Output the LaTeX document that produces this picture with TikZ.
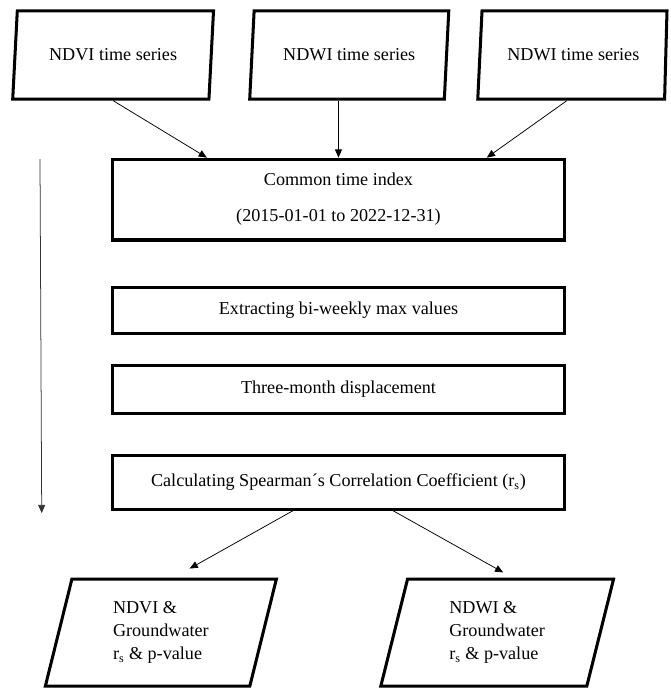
\documentclass[tikz,border=0pt]{standalone}
\usepackage{fontspec}
\setmainfont{Liberation Serif}
\usetikzlibrary{shapes.geometric}
\usetikzlibrary{arrows.meta}

\begin{document}
\begin{tikzpicture}
		[every node/.style={font=\fontsize{12}{14.4}\selectfont},
		process box/.style={draw, line width=2pt, minimum width=10.53cm, inner sep=0pt},
		data box/.style={draw, line width=2pt, trapezium, trapezium stretches=true,
			trapezium left angle=76, trapezium right angle=104, inner sep=0pt},
		result box/.style={data box, trapezium left angle=77, trapezium right angle=103,
			minimum height=2.49cm, align=left, font=\fontsize{12}{15.2}\selectfont},
		flow/.style={-{Triangle[length=5.4pt,width=4.6pt]}, line width=0.5pt}]
		
		\def \topy {-1.28};
		\def \boty {-14.71};
		
		\useasboundingbox (0,0) rectangle (15.58,-16.02);
		
		% input series
		\node[data box, minimum width=4.70cm, minimum height=2.05cm] (ndvi) at (2.63,\topy) {NDVI time series};
		\node[data box, minimum width=4.65cm, minimum height=2.05cm] (ndwi) at (8.12,\topy) {NDWI time series};
		\node[data box, trapezium right angle=98, minimum width=4.42cm, minimum height=2.05cm] (ndwib) at (13.33,\topy) {NDWI time series};
		
		% processing steps
		\node[process box, minimum height=1.88cm, align=center] (common) at (7.87,-4.64)
			{Common time index\\[9.4pt](2015-01-01 to 2022-12-31)};
		\node[process box, minimum height=1.09cm] (extract) at (7.87,-7.22) {Extracting bi-weekly max values};
		\node[process box, minimum height=1.12cm] (shift) at (7.87,-9.05) {Three-month displacement};
		\node[process box, minimum height=1.26cm] (spearman) at (7.87,-11.21)
			{Calculating Spearman\char"00B4 s Correlation Coefficient (r\textsubscript{s})};
		
		% results
		\node[result box, minimum width=5.40cm] (ndvigw) at (3.74,\boty)
			{NDVI \&\\Groundwater\\r\textsubscript{s} \& p-value};
		\node[result box, minimum width=5.44cm] (ndwigw) at (11.56,\boty)
			{NDWI \&\\Groundwater\\r\textsubscript{s} \& p-value};
		
		\coordinate (flowtop) at (0.93,-3.70);
		\coordinate (flowend) at (0.97,-11.93);
		
		\draw[flow] (ndvi.south) -- ([xshift=-3.06cm]common.north);
		\draw[flow] (common.north |- ndwi.south) -- (common.north);
		\draw[flow] ([xshift=-0.15cm]ndwib.south) -- ([xshift=3.45cm]common.north);
		\draw[flow] ([xshift=-1.06cm]spearman.south) -- ([xshift=0.67cm,yshift=0.21cm]ndvigw.north);
		\draw[flow] ([xshift=1.27cm]spearman.south) -- ([xshift=0.14cm,yshift=0.12cm]ndwigw.north);
		\draw[flow, black!80] (flowtop) -- (flowend);
		
	\end{tikzpicture}
\end{document}
